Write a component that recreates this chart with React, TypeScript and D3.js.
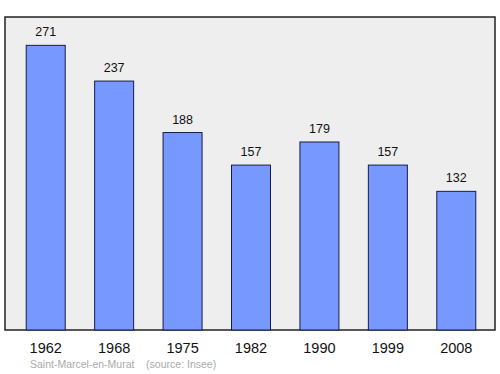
import React from "react";
import * as d3 from "d3";

const years = ["1962", "1968", "1975", "1982", "1990", "1999", "2008"];
const population = [271, 237, 188, 157, 179, 157, 132];
const sourceLabel = "Saint-Marcel-en-Murat    (source: Insee)";

const W = 500, H = 374;
const left = 5, right = 495, top = 17, bottom = 330;

export default function App() {
  const x = d3.scaleBand<string>().domain(years).range([11.5, 490.5]).paddingInner(0.43).paddingOuter(0.215);
  const y = d3.scaleLinear().domain([0, 298]).range([bottom, top]);
  return (
    <svg width={W} height={H} style={{ position: "absolute", left: 0, top: 0 }} fontFamily="Liberation Sans, Arial, sans-serif">
      <rect x={left} y={top} width={right - left} height={bottom - top} fill="#eeeeee" stroke="#222" strokeWidth={1.5} />
      {years.map((yr, i) => {
        const v = population[i];
        const bx = x(yr)!;
        const bw = x.bandwidth();
        return (
          <g key={yr}>
            <rect x={bx} y={y(v)} width={bw} height={bottom - y(v)} fill="#7799ff" stroke="#1a1a4a" strokeWidth={1} />
            <text x={bx + bw / 2} y={y(v) - 9} textAnchor="middle" fontSize={12.5} fill="#111">{v}</text>
            <text x={bx + bw / 2} y={352.5} textAnchor="middle" fontSize={14.5} fill="#111">{yr}</text>
          </g>
        );
      })}
      <text x={30} y={368} fontSize={10.5} fill="#aaaaaa" style={{ whiteSpace: "pre" }}>{sourceLabel}</text>
    </svg>
  );
}
